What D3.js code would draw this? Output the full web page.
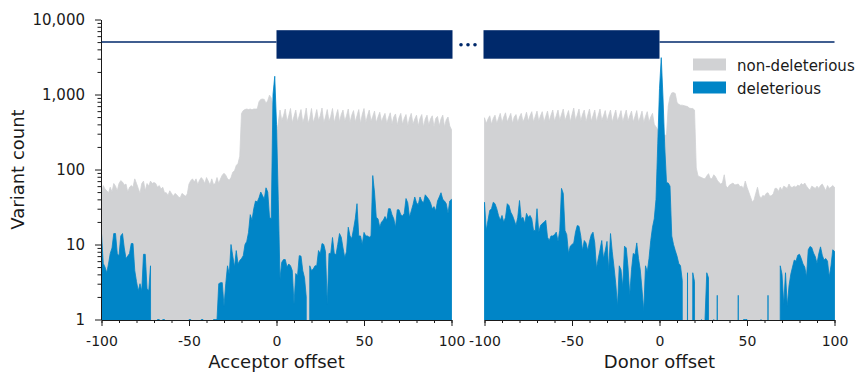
<!DOCTYPE html>
<html>
<head>
<meta charset="utf-8">
<script src="https://cdn.jsdelivr.net/npm/d3@7"></script>
<style>
  body { margin: 0; background: #fff; }
  svg { display: block; }
  text { font-family: "DejaVu Sans", sans-serif; }
</style>
</head>
<body>
<svg id="chart" width="858" height="373"></svg>
<script>
// offsets -100 .. 100, one value per offset
const offsets = d3.range(-100, 101);

const acceptorNonDel = [
  48, 61, 55, 52, 49, 58, 50, 65, 60, 52,
  65, 71, 68, 62, 64, 50, 58, 61, 58, 75,
  65, 56, 48, 65, 70, 52, 65, 60, 70, 65,
  67, 65, 58, 61, 55, 58, 49, 49, 45, 52,
  48, 44, 48, 46, 43, 42, 48, 46, 44, 47,
  64, 71, 75, 68, 75, 63, 72, 78, 73, 65,
  78, 70, 62, 75, 63, 65, 78, 65, 75, 84,
  89, 84, 75, 72, 78, 92, 96, 113, 120, 150,
  560, 610, 630, 640, 630, 640, 625, 640, 640, 640,
  800, 860, 870, 860, 760, 830, 980, 900, 700, 600,
  300, 420, 620, 450, 520, 640, 430, 520, 650, 420,
  510, 620, 430, 520, 630, 420, 500, 660, 410, 480,
  650, 420, 500, 630, 450, 520, 660, 420, 500, 630,
  440, 510, 650, 420, 520, 630, 430, 540, 620, 440,
  520, 640, 420, 530, 610, 430, 520, 630, 410, 540,
  650, 420, 520, 620, 440, 510, 600, 420, 500, 580,
  430, 500, 560, 410, 490, 570, 400, 500, 550, 390,
  490, 560, 400, 480, 540, 380, 480, 560, 400, 470,
  530, 380, 480, 540, 370, 470, 530, 390, 470, 520,
  370, 480, 510, 380, 470, 530, 370, 460, 500, 380,
  340
];

const acceptorDel = [
  14, 5.6, 5, 4.2, 5.5, 7.6, 9, 14, 14, 7.6,
  7, 13, 14, 9, 6.5, 7, 7.6, 10.3, 10.3, 4.5,
  3.2, 2.4, 3, 2.4, 7.4, 7.4, 2.6, 2.4, 5.2, 0,
  0, 0, 1, 1, 0, 1, 1, 0, 0, 0,
  0, 0, 0, 0, 0, 0, 0, 0, 0, 0,
  1, 1, 0, 0, 0, 0, 0, 1, 1, 0,
  0, 0, 0, 0, 1, 1, 1, 3, 3.1, 3.1,
  1.5, 3, 5.2, 4, 10, 7, 5, 8.3, 5.5, 6.1,
  6.5, 7.1, 10, 11, 14.5, 25, 21, 30, 38, 37,
  42, 50, 45, 40, 57, 50, 23, 22, 1000, 1750,
  400, 40, 3.5, 5.8, 6.3, 6.3, 5, 5.5, 5.2, 4.5,
  1.6, 4.1, 3.8, 7.1, 7, 4.5, 3.6, 2, 0, 5.2,
  4.5, 4.7, 5.2, 5.2, 8.3, 7.5, 10.3, 10, 8, 1.6,
  7.6, 7.6, 12.4, 7.6, 7.3, 10, 14, 12.5, 9, 6.7,
  8, 17, 13, 12, 16, 22, 35, 13, 13, 10,
  14.5, 13, 13, 12.5, 13, 83, 50, 23, 22, 17,
  20, 21, 23.6, 21, 30, 30, 25, 22, 17, 29,
  29, 25, 24, 26, 41, 36, 23, 28, 34, 43,
  36, 34, 43, 38, 36, 46, 43, 40, 36, 30,
  32, 28, 38, 43, 49, 40, 38, 35, 26, 38,
  40
];

const donorNonDel = [
  490, 410, 470, 520, 400, 480, 530, 410, 480, 560,
  420, 500, 570, 430, 490, 560, 410, 500, 540, 420,
  500, 560, 430, 490, 580, 440, 520, 590, 430, 510,
  600, 440, 520, 590, 430, 510, 600, 440, 530, 620,
  440, 520, 620, 450, 540, 640, 450, 520, 610, 430,
  540, 660, 450, 530, 640, 440, 540, 620, 430, 530,
  640, 440, 520, 620, 430, 530, 640, 450, 520, 610,
  440, 530, 620, 430, 520, 620, 440, 510, 610, 430,
  520, 620, 440, 520, 600, 430, 510, 610, 430, 500,
  600, 420, 510, 590, 430, 500, 560, 400, 370, 340,
  300, 300, 290, 285, 290, 700, 930, 1050, 1060, 1030,
  780, 740, 720, 720, 710, 700, 690, 660, 650, 650,
  620, 105, 82, 80, 78, 76, 75, 82, 88, 76,
  75, 85, 80, 72, 67, 64, 67, 85, 60, 57,
  62, 64, 66, 62, 63, 64, 59, 60, 56, 70,
  58, 50, 43, 37, 39, 48, 58, 45, 41, 45,
  44, 48, 49, 44, 45, 47, 56, 56, 51, 58,
  53, 60, 58, 56, 64, 58, 58, 60, 58, 62,
  60, 65, 62, 66, 60, 56, 53, 60, 58, 56,
  60, 56, 61, 64, 58, 52, 61, 56, 58, 61,
  58
];

const donorDel = [
  36.6, 15.4, 21, 28.4, 30, 36.6, 35, 30, 24.4, 21,
  24.4, 19.8, 23, 35, 33, 27, 24.4, 21, 17.9, 23,
  38.6, 22, 23, 19, 26, 23, 24.4, 22, 15.4, 15.4,
  30, 14.6, 17.9, 19, 19.8, 21, 12.5, 11.3, 13, 13,
  13.5, 14.6, 11, 15.4, 56, 48, 15.4, 13.5, 7.6, 9.5,
  10, 10.5, 14.6, 17.9, 17.5, 13, 8.3, 11.3, 10.5, 8.3,
  11, 13.5, 14.6, 10.5, 4.8, 6.5, 8.5, 11.3, 6.5, 8.3,
  11, 4.5, 14, 8, 5, 3, 1.5, 5.2, 4.6, 2.7,
  9.5, 9, 5, 2.1, 4.6, 7.6, 7.3, 10.5, 6.5, 4.6,
  2.5, 1.3, 5.2, 4.3, 6.5, 11.3, 17, 22, 40, 220,
  1200, 3100, 900, 200, 67, 66, 60, 13, 10, 8.3,
  7, 5.6, 5.2, 3.3, 0, 0, 4.2, 0, 0, 4.2,
  3.2, 0, 0, 0, 1, 0, 1, 4.2, 3.6, 0,
  0, 1, 0, 2.1, 0, 0, 0, 0, 0, 0,
  0, 0, 0, 0, 0, 2.1, 0, 0, 1, 1,
  1, 0, 0, 0, 0, 0, 0, 0, 1, 0,
  0, 0, 2.1, 0, 0, 0, 0, 0, 0, 5.2,
  4, 1.6, 4.2, 1.5, 2.8, 4, 5, 6.2, 6, 7.2,
  7.4, 6.5, 5.5, 5, 3.7, 8.5, 9.4, 9.1, 7.7, 6.9,
  5.6, 7.5, 9.3, 7.2, 6.2, 6.5, 6, 3.7, 5.2, 8.5,
  8.1
];

const xTicks = [-100, -50, 0, 50, 100];
const xMinorTicks = d3.range(-100, 101, 10);
const yTicks = [1, 10, 100, 1000, 10000];
const yMinorTicks = [1, 10, 100, 1000].flatMap(d => d3.range(2, 10).map(k => k * d));

const legendItems = ["non-deleterious", "deleterious"];
const colors = { nonDel: "#d1d2d4", del: "#0085c7", navy: "#00296b", ink: "#1a1a1a" };

// gene model sketch on top: line at 5000, exon boxes 3000..7200
const modelLine = 5000, boxLow = 3000, boxHigh = 7200, dotLevel = 4600;

const svg = d3.select("#chart");
const bottom = 320;
const tickFont = 14;

const y = d3.scaleLog().domain([1, 10000]).range([319.5, 19.5]);
const floorY = 2000;
const yv = v => v > 0 ? y(v) : floorY;

const panels = [
  { label: "Acceptor offset", nonDel: acceptorNonDel, del: acceptorDel, range: [101.5, 451.5] },
  { label: "Donor offset", nonDel: donorNonDel, del: donorDel, range: [484.5, 834.5] }
];

panels.forEach((p, i) => {
  const x = d3.scaleLinear().domain([-100, 100]).range(p.range);
  p.x = x;

  svg.append("clipPath").attr("id", "clip" + i)
    .append("rect")
    .attr("x", p.range[0] - 1).attr("y", y(10000))
    .attr("width", p.range[1] - p.range[0] + 2).attr("height", bottom - y(10000));

  const area = d3.area()
    .x((v, j) => x(offsets[j]))
    .y0(floorY)
    .y1(v => yv(v));

  const g = svg.append("g").attr("clip-path", `url(#clip${i})`);

  g.append("path")
    .datum(p.nonDel)
    .attr("fill", colors.nonDel)
    .attr("stroke", colors.nonDel)
    .attr("stroke-width", 0.8)
    .attr("d", area);

  g.append("path")
    .datum(p.del)
    .attr("fill", colors.del)
    .attr("stroke", colors.del)
    .attr("stroke-width", 0.8)
    .attr("d", area);

  // x axis, minor ticks every 10
  svg.append("g")
    .attr("transform", `translate(0,${bottom})`)
    .call(d3.axisBottom(x).tickValues(xMinorTicks).tickSize(3).tickFormat(""))
    .call(a => a.select(".domain").remove())
    .attr("color", colors.ink);

  svg.append("g")
    .attr("transform", `translate(0,${bottom})`)
    .call(d3.axisBottom(x).tickValues(xTicks).tickSize(6).tickPadding(10).tickSizeOuter(0).tickFormat(d => String(d)))
    .attr("color", colors.ink)
    .attr("font-size", tickFont)
    .attr("font-family", "DejaVu Sans");

  svg.append("text")
    .attr("x", (p.range[0] + p.range[1]) / 2)
    .attr("y", 368)
    .attr("text-anchor", "middle")
    .attr("font-size", 18)
    .attr("fill", colors.ink)
    .text(p.label);
});

// y axis on the left panel only
const yAxisX = Math.floor(panels[0].range[0]);
svg.append("g")
  .attr("transform", `translate(${yAxisX},0)`)
  .call(d3.axisLeft(y).tickValues(yMinorTicks).tickSize(3.5).tickFormat(""))
  .call(a => a.select(".domain").remove())
  .attr("color", colors.ink);

svg.append("g")
  .attr("transform", `translate(${yAxisX},0)`)
  .call(d3.axisLeft(y).tickValues(yTicks).tickSize(6).tickPadding(10).tickSizeOuter(0).tickFormat(d3.format(",")))
  .attr("color", colors.ink)
  .attr("font-size", 15)
  .attr("font-family", "DejaVu Sans");

svg.append("text")
  .attr("transform", `translate(24,${(y(1) + y(10000)) / 2}) rotate(-90)`)
  .attr("text-anchor", "middle")
  .attr("font-size", 18)
  .attr("fill", colors.ink)
  .text("Variant count");

// gene model
const xa = panels[0].x, xd = panels[1].x;
svg.append("line")
  .attr("x1", xa(-100)).attr("x2", xa(0))
  .attr("y1", y(modelLine)).attr("y2", y(modelLine))
  .attr("stroke", colors.navy).attr("stroke-width", 1.5);
svg.append("line")
  .attr("x1", xd(0)).attr("x2", xd(100))
  .attr("y1", y(modelLine)).attr("y2", y(modelLine))
  .attr("stroke", colors.navy).attr("stroke-width", 1.5);

svg.append("rect")
  .attr("x", xa(0)).attr("y", y(boxHigh))
  .attr("width", xa(100) - xa(0) + 1).attr("height", y(boxLow) - y(boxHigh))
  .attr("fill", colors.navy);
svg.append("rect")
  .attr("x", xd(-100) - 1).attr("y", y(boxHigh))
  .attr("width", xd(0) - xd(-100) + 1).attr("height", y(boxLow) - y(boxHigh))
  .attr("fill", colors.navy);

const gapMid = (xa(100) + xd(-100)) / 2;
svg.selectAll("circle.dot")
  .data([-1, 0, 1])
  .enter().append("circle")
  .attr("class", "dot")
  .attr("cx", d => gapMid + d * 7)
  .attr("cy", y(dotLevel))
  .attr("r", 1.8)
  .attr("fill", colors.navy);

// legend
const legend = svg.append("g").attr("transform", "translate(693,58.5)");
legendItems.forEach((name, i) => {
  legend.append("rect")
    .attr("x", 0).attr("y", i * 23)
    .attr("width", 33).attr("height", 12)
    .attr("fill", i === 0 ? colors.nonDel : colors.del);
  legend.append("text")
    .attr("x", 44).attr("y", i * 23 + 12)
    .attr("font-size", 15)
    .attr("fill", colors.ink)
    .text(name);
});
</script>
</body>
</html>
